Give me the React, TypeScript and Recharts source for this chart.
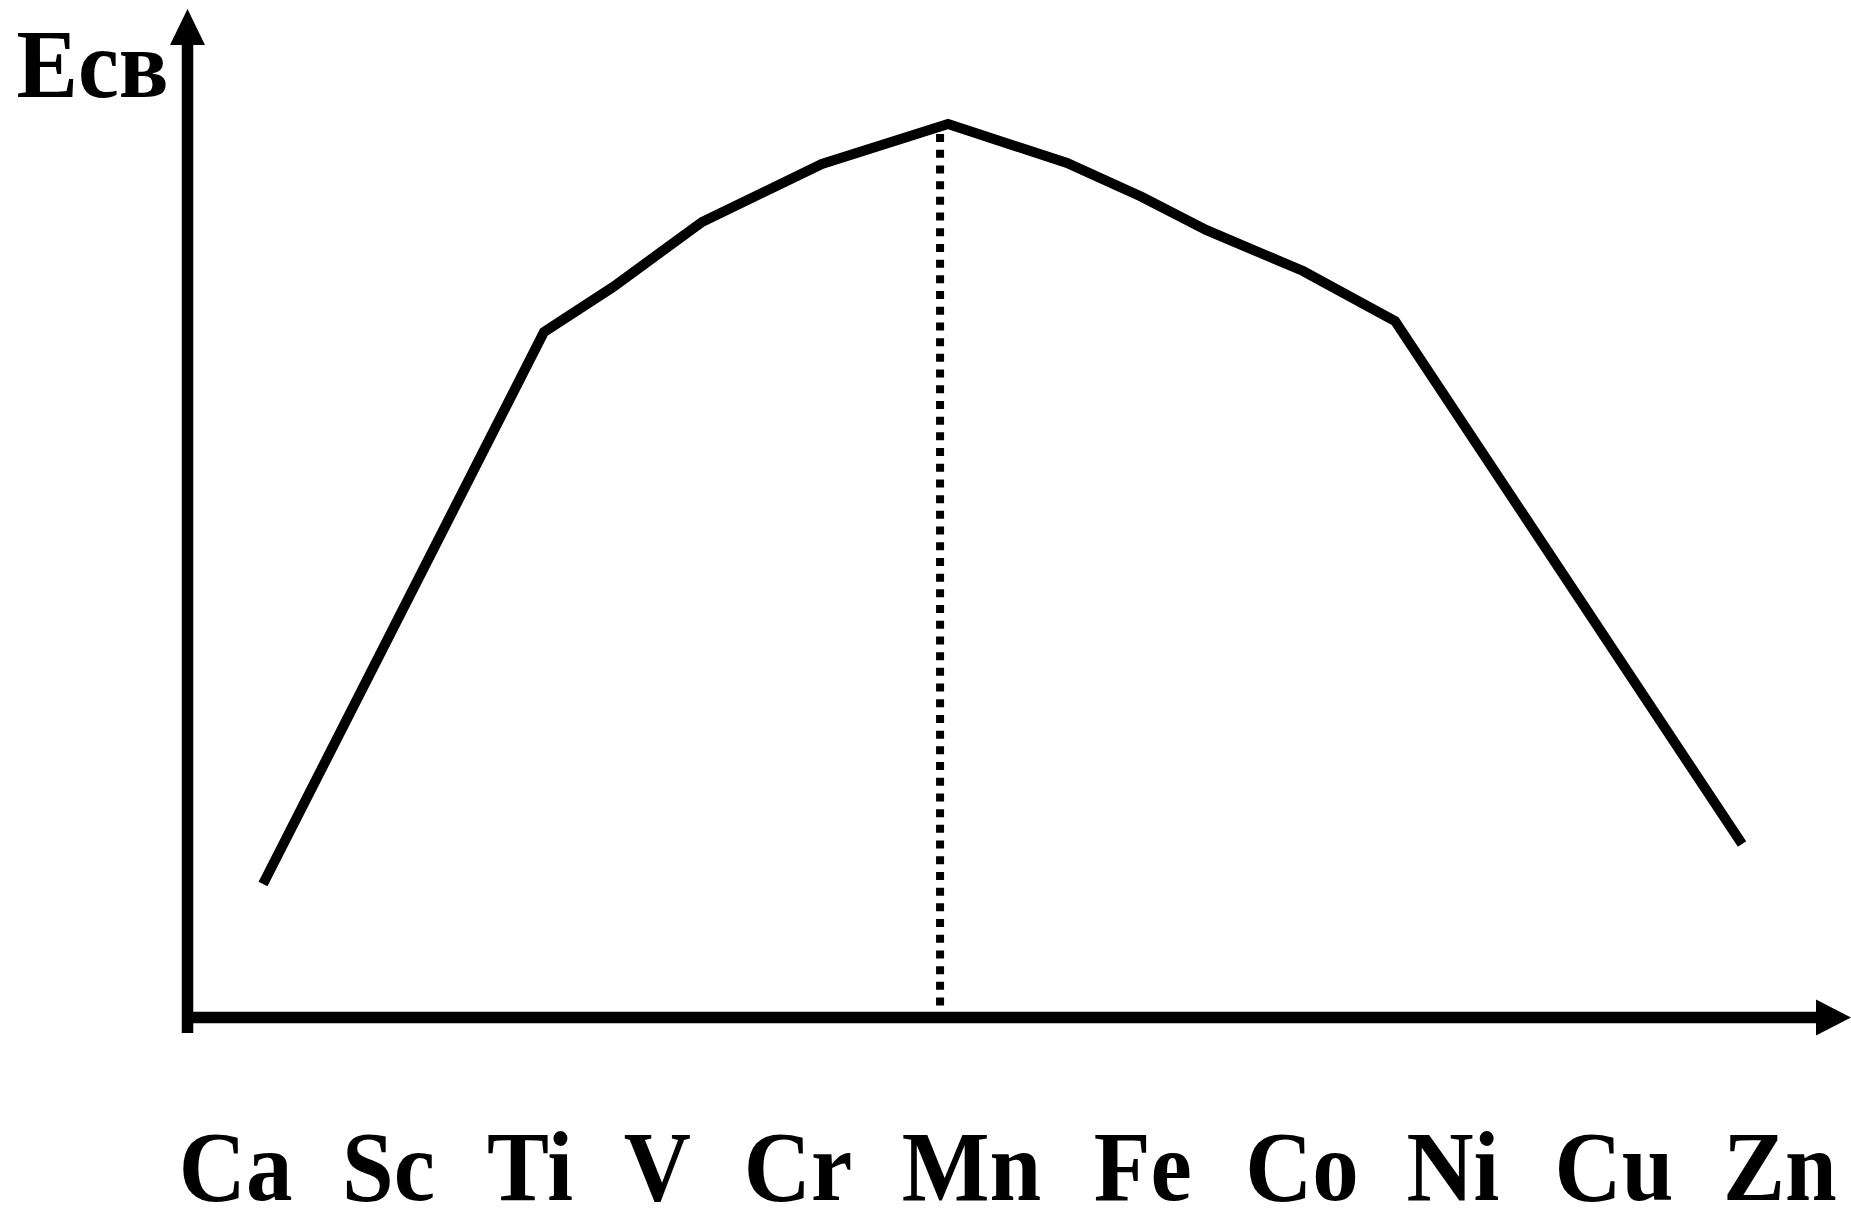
import { LineChart, Line, XAxis, YAxis, ReferenceLine } from "recharts"

/* подписи элементов по оси X и их положение (в условных единицах оси 0..100) */
const elements   = ["Ca", "Sc", "Ti", "V", "Cr", "Mn", "Fe", "Co", "Ni", "Cu", "Zn"]
const elementPos = [2.89, 12.08, 20.59, 28.25, 36.7, 47.13, 57.42, 67.0, 76.07, 85.75, 95.72]

/* ломаная Есв — вершины */
const curveX = [4.54, 21.43, 25.58, 30.93, 38.14, 45.72, 52.87, 57.38, 61.23, 67.06, 72.59, 93.45]
const curveY = [13.24, 67.97, 72.43, 78.88, 84.63, 88.6, 84.73, 81.36, 78.09, 74.02, 69.06, 17.2]

/* пунктир под максимумом */
const peakX      = 45.24
const peakTop    = 87.6
const peakBottom = 0.84

const yLabel = "Есв"

const W = 1851
const H = 1209
const SERIF = "'Liberation Serif', 'Times New Roman', serif"

const data = curveX.map((x, i) => ({ x, y: curveY[i] }))

function ElementTick(props: any) {
  const { x, y, payload } = props
  let i = elementPos.indexOf(payload.value)
  if (i < 0) i = payload.index ?? 0
  return (
    <g transform={`translate(${x},${y + 182}) scale(0.93,1)`}>
      <text textAnchor="middle" fontFamily={SERIF} fontWeight="bold" fontSize={100} fill="#000">
        {elements[i]}
      </text>
    </g>
  )
}

function YArrow(p: any) {
  const { x1, y1, x2, y2 } = p
  return (
    <g>
      <line x1={x1} y1={y1} x2={x2} y2={y2 + 36} stroke="#000" strokeWidth={11.5} />
      <polygon points={`${x2 - 17.5},${y2 + 36} ${x2 + 17.5},${y2 + 36} ${x2},${y2}`} fill="#000" />
    </g>
  )
}

function XArrow(p: any) {
  const { x1, y1, x2, y2 } = p
  return (
    <g>
      <line x1={x1} y1={y1} x2={x2 - 35} y2={y2} stroke="#000" strokeWidth={11.5} />
      <polygon points={`${x2 - 35},${y2 - 18} ${x2 - 35},${y2 + 18} ${x2},${y2}`} fill="#000" />
    </g>
  )
}

export default function App() {
  return (
    <div style={{ position: "absolute", left: 0, top: 0, width: W, height: H, background: "#fff" }}>
      <LineChart width={W} height={H} data={data}
        margin={{ top: 9, right: 0, bottom: 0, left: 187.5 }}>
        <XAxis type="number" dataKey="x" domain={[0, 100]} ticks={elementPos} interval={0}
          tick={<ElementTick />} axisLine={false} tickLine={false} tickSize={0} tickMargin={0}
          height={191.5} allowDataOverflow />
        <YAxis type="number" domain={[0, 100]} hide allowDataOverflow />

        <ReferenceLine segment={[{ x: peakX, y: peakTop }, { x: peakX, y: peakBottom }]}
          stroke="#000" strokeWidth={8} strokeDasharray="8 7.7" ifOverflow="visible" />

        <Line type="linear" dataKey="y" stroke="#000" strokeWidth={10} dot={false}
          activeDot={false} isAnimationActive={false} strokeLinejoin="miter" />

        <ReferenceLine segment={[{ x: 0, y: -1.54 }, { x: 0, y: 100 }]}
          ifOverflow="visible" shape={YArrow} />
        <ReferenceLine segment={[{ x: -0.33, y: 0 }, { x: 100, y: 0 }]}
          ifOverflow="visible" shape={XArrow} />
      </LineChart>

      <svg width={W} height={H} style={{ position: "absolute", left: 0, top: 0, pointerEvents: "none" }}>
        <text x={16.5} y={97} fontFamily={SERIF} fontWeight="bold" fontSize={97} fill="#000"
          textLength={152} lengthAdjust="spacingAndGlyphs">
          {yLabel}
        </text>
      </svg>
    </div>
  )
}
